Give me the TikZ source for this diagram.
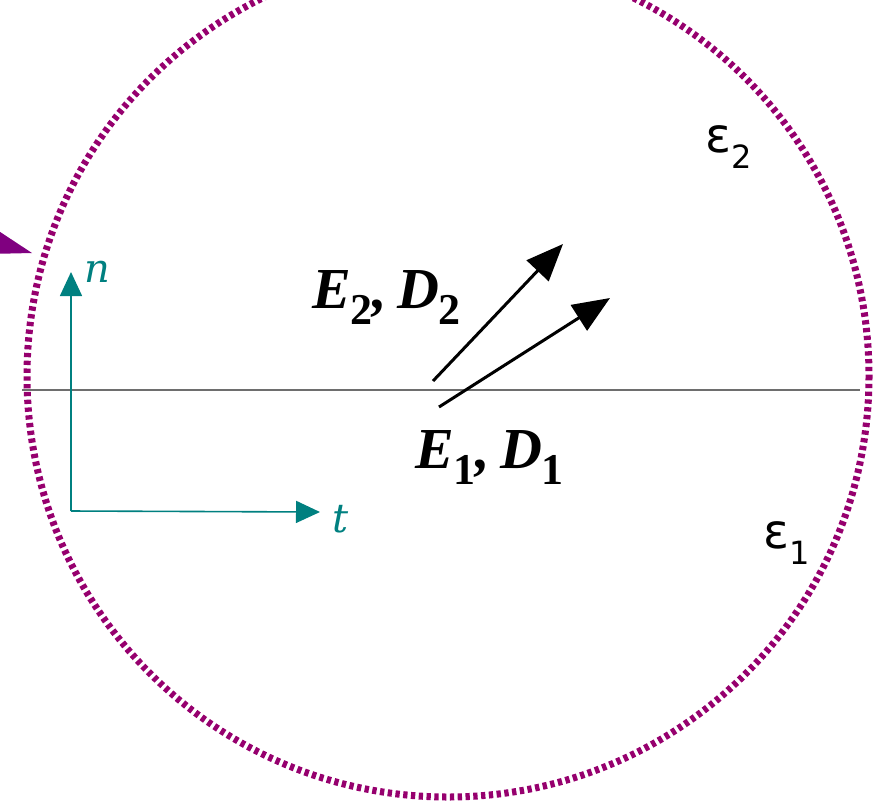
\documentclass[tikz,border=0pt]{standalone}
\usepackage{fontspec}
\setmainfont{Liberation Serif}
\newfontfamily\dvsans{DejaVu Sans}
\newfontfamily\dvserif{DejaVu Serif}
\usetikzlibrary{arrows.meta}
\definecolor{rim}{RGB}{150,0,110}
\definecolor{axiscol}{RGB}{0,128,128}
\definecolor{markcol}{RGB}{128,0,128}
\definecolor{linecol}{RGB}{110,110,110}
\newcommand{\fieldsub}[1]{\raisebox{-16pt}{\fontsize{44}{44}\selectfont\bfseries\upshape #1}}
\newcommand{\epsub}[1]{\raisebox{-16pt}{\fontsize{32}{32}\selectfont #1}}
\begin{document}
\begin{tikzpicture}[x=1pt,y=-1pt,
  rimline/.style={draw=rim,line width=7pt,dash pattern=on 4.3pt off 3.5pt},
  axisline/.style={draw=axiscol,line width=1.6pt,-{Triangle[length=24pt,width=22pt]}},
  fieldarrow/.style={draw=black,line width=3pt,-{Triangle[length=37pt,width=30pt]}},
  fieldlabel/.style={anchor=base west,inner sep=0pt,font=\fontsize{58}{60}\selectfont\bfseries\itshape},
  eplabel/.style={anchor=base west,inner sep=0pt,font=\dvsans\fontsize{48}{50}\selectfont},
  axislabel/.style={anchor=base west,inner sep=0pt,text=axiscol,font=\dvserif\itshape\fontsize{40}{42}\selectfont}]
\useasboundingbox (0,0) rectangle (874,804);
\clip (0,0) rectangle (874,804);
% boundary circle
\draw[rimline] (448,376) circle[radius=421];
% interface line
\coordinate (il) at (22,390);
\coordinate (ir) at (860,390);
\draw[linecol,line width=1.8pt] (il) -- (ir);
% purple marker
\fill[markcol] (-12,224) -- (32,253) -- (-12,254) -- cycle;
% axes
\coordinate (o) at (71,511);
\coordinate (ntip) at (71,272);
\coordinate (ttip) at (320,512);
\draw[axisline] (o) -- (ntip);
\draw[axisline] (o) -- (ttip);
\node[axislabel] (nl) at (84,282) {n};
\node[axislabel] (tl) at (332,532) {t};
% field arrows
\coordinate (a1s) at (433,381);
\coordinate (a1e) at (563,244);
\coordinate (a2s) at (439,407);
\coordinate (a2e) at (610,298);
\draw[fieldarrow] (a1s) -- (a1e);
\draw[fieldarrow] (a2s) -- (a2e);
% labels
\node[fieldlabel] (l2) at (312,308) {E\fieldsub{2},\,D\fieldsub{2}};
\node[fieldlabel] (l1) at (415,468) {E\fieldsub{1},\,D\fieldsub{1}};
\node[eplabel] (e2) at (705,152) {ε\epsub{2}};
\node[eplabel] (e1) at (763,548) {ε\epsub{1}};
\end{tikzpicture}
\end{document}
